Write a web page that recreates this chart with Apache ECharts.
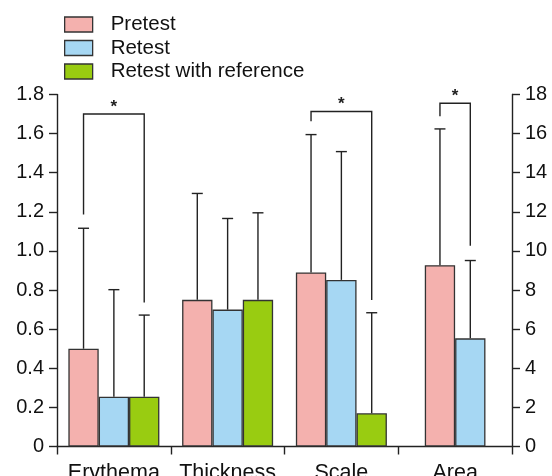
<!DOCTYPE html>
<html>
<head>
<meta charset="utf-8">
<script src="https://cdn.jsdelivr.net/npm/echarts@6/dist/echarts.min.js"></script>
<style>
  html, body { margin: 0; padding: 0; background: #fff; }
  #chart { width: 552px; height: 476px; }
</style>
</head>
<body>
<div id="chart"></div>
<script>
// categories and values (Area is read on the right axis, 0-18)
var categories = ['Erythema', 'Thickness', 'Scale', 'Area'];
var pretest      = [0.50, 0.75, 0.89, 9.27];
var retest       = [0.255, 0.70, 0.852, 5.53];
var retestRef    = [0.255, 0.75, 0.17, null];
// upper end of the error whiskers (mean + SD)
var pretestUpper   = [1.116, 1.294, 1.595, 16.24];
var retestUpper    = [0.802, 1.166, 1.508, 9.51];
var retestRefUpper = [0.672, 1.195, 0.684, null];
// significance brackets: category, from bar, to bar, top, left leg end, right leg end, bars in group
var bracketCat   = [0, 2, 3];
var bracketFrom  = [0, 0, 0];
var bracketTo    = [2, 2, 1];
var bracketTop   = [1.70, 1.713, 17.55];
var bracketLeft  = [1.186, 1.663, 16.89];
var bracketRight = [0.737, 0.749, 10.26];
var bracketSlots = [3, 3, 2];
var leftTicks  = [0, 1.8, 0.2];
var rightTicks = [0, 18, 2];

var BAR_FRAC = 0.2667;
var INK = '#222';
var FONT = 'Liberation Sans, Arial, sans-serif';

function slotX(api, cat, slot, n) {
    var c = api.coord([cat, 0]);
    var w = api.size([1, 0])[0] * BAR_FRAC;
    return c[0] + (slot - (n - 1) / 2) * w;
}

function renderErr(params, api) {
    var cat = api.value(0), slot = api.value(1), n = api.value(2);
    var mean = api.value(3), up = api.value(4);
    var x = slotX(api, cat, slot, n);
    var y0 = api.coord([cat, mean])[1];
    var y1 = api.coord([cat, up])[1];
    var st = { stroke: INK, lineWidth: 1.4 };
    return {
        type: 'group',
        children: [
            { type: 'line', shape: { x1: x, y1: y0, x2: x, y2: y1 }, style: st },
            { type: 'line', shape: { x1: x - 5.5, y1: y1, x2: x + 5.5, y2: y1 }, style: st }
        ]
    };
}

function renderBracket(i, api) {
    var cat = bracketCat[i], n = bracketSlots[i];
    var xa = slotX(api, cat, bracketFrom[i], n);
    var xb = slotX(api, cat, bracketTo[i], n);
    var yt = api.coord([cat, bracketTop[i]])[1];
    var yl = api.coord([cat, bracketLeft[i]])[1];
    var yr = api.coord([cat, bracketRight[i]])[1];
    return {
        type: 'group',
        children: [
            { type: 'polyline', shape: { points: [[xa, yl], [xa, yt], [xb, yt], [xb, yr]] },
              style: { stroke: INK, lineWidth: 1.4, fill: null } },
            { type: 'text', style: { x: (xa + xb) / 2, y: yt - 7, text: '*', fill: INK,
              font: 'bold 17px ' + FONT, align: 'center', verticalAlign: 'middle' } }
        ]
    };
}

function errData(means, uppers, slot, n, cats) {
    var out = [];
    cats.forEach(function (c) {
        if (means[c] != null && uppers[c] != null) out.push([c, slot, n, means[c], uppers[c]]);
    });
    return out;
}

function bracketData(axisIdx) {
    var out = [];
    bracketCat.forEach(function (c, i) {
        var onRight = c === 3;
        if ((axisIdx === 1) === onRight) out.push([c, i]);
    });
    return out;
}

var leftCats = [0, 1, 2];
var barStyle = function (color) {
    return { color: color, borderColor: '#333', borderWidth: 1.3 };
};
var PINK = '#F4B1AE', BLUE = '#A6D7F3', GREEN = '#99CC11';

function pick(arr, idxs) {
    return arr.map(function (v, i) { return idxs.indexOf(i) >= 0 && v != null ? v : '-'; });
}

var axisCommon = {
    axisLine: { show: true, lineStyle: { color: INK, width: 1.4 } },
    axisTick: { show: true, length: 8, lineStyle: { color: INK, width: 1.4 } },
    axisLabel: { color: '#111', fontSize: 20, fontFamily: FONT, margin: 13 },
    splitLine: { show: false }
};

var myChart = echarts.init(document.getElementById('chart'));
var option = {
    backgroundColor: '#fff',
    animation: false,
    legend: {
        orient: 'vertical',
        left: 64,
        top: 14,
        padding: 0,
        icon: 'rect',
        itemWidth: 28,
        itemHeight: 15,
        itemGap: 2.5,
        selectedMode: false,
        data: ['Pretest', 'Retest', 'Retest with reference'],
        itemStyle: { borderColor: '#333', borderWidth: 1.3 },
        textStyle: { color: '#111', fontSize: 20.5, fontFamily: FONT, lineHeight: 19, padding: [0, 0, 0, 13] }
    },
    grid: { left: 57, right: 40, top: 94.5, bottom: 29.5, containLabel: false, outerBoundsMode: 'none' },
    xAxis: [
        Object.assign({}, axisCommon, {
            type: 'category',
            data: categories,
            axisTick: { show: true, length: 8, interval: 0, lineStyle: { color: INK, width: 1.4 } },
            axisLabel: { color: '#111', fontSize: 21.5, fontFamily: FONT, margin: 16, interval: 0 }
        }),
        { type: 'category', data: categories, show: false }
    ],
    yAxis: [
        Object.assign({}, axisCommon, {
            type: 'value', position: 'left',
            min: leftTicks[0], max: leftTicks[1], interval: leftTicks[2],
            axisLabel: Object.assign({}, axisCommon.axisLabel, {
                formatter: function (v) { return v === 0 ? '0' : v.toFixed(1); }
            })
        }),
        Object.assign({}, axisCommon, {
            type: 'value', position: 'right',
            min: rightTicks[0], max: rightTicks[1], interval: rightTicks[2]
        })
    ],
    series: [
        { name: 'Pretest', type: 'bar', xAxisIndex: 0, yAxisIndex: 0, barWidth: '26.67%', barGap: '0%',
          itemStyle: barStyle(PINK), data: pick(pretest, leftCats) },
        { name: 'Retest', type: 'bar', xAxisIndex: 0, yAxisIndex: 0, barWidth: '26.67%', barGap: '0%',
          itemStyle: barStyle(BLUE), data: pick(retest, leftCats) },
        { name: 'Retest with reference', type: 'bar', xAxisIndex: 0, yAxisIndex: 0, barWidth: '26.67%', barGap: '0%',
          itemStyle: barStyle(GREEN), data: pick(retestRef, leftCats) },
        // Area group: two bars centred, on the right axis
        { name: 'Pretest', type: 'bar', xAxisIndex: 1, yAxisIndex: 1, barWidth: '26.67%', barGap: '0%',
          itemStyle: barStyle(PINK), data: pick(pretest, [3]) },
        { name: 'Retest', type: 'bar', xAxisIndex: 1, yAxisIndex: 1, barWidth: '26.67%', barGap: '0%',
          itemStyle: barStyle(BLUE), data: pick(retest, [3]) },
        { type: 'custom', xAxisIndex: 0, yAxisIndex: 0, z: 5, renderItem: renderErr,
          encode: { x: 0, y: 4 }, silent: true,
          data: errData(pretest, pretestUpper, 0, 3, leftCats)
              .concat(errData(retest, retestUpper, 1, 3, leftCats))
              .concat(errData(retestRef, retestRefUpper, 2, 3, leftCats)) },
        { type: 'custom', xAxisIndex: 0, yAxisIndex: 1, z: 5, renderItem: renderErr,
          encode: { x: 0, y: 4 }, silent: true,
          data: errData(pretest, pretestUpper, 0, 2, [3])
              .concat(errData(retest, retestUpper, 1, 2, [3])) },
        { type: 'custom', xAxisIndex: 0, yAxisIndex: 0, z: 6, silent: true, encode: { x: 0, y: 1 },
          renderItem: function (params, api) { return renderBracket(api.value(1), api); },
          data: bracketData(0) },
        { type: 'custom', xAxisIndex: 0, yAxisIndex: 1, z: 6, silent: true, encode: { x: 0, y: 1 },
          renderItem: function (params, api) { return renderBracket(api.value(1), api); },
          data: bracketData(1) }
    ]
};
myChart.setOption(option);
</script>
</body>
</html>
